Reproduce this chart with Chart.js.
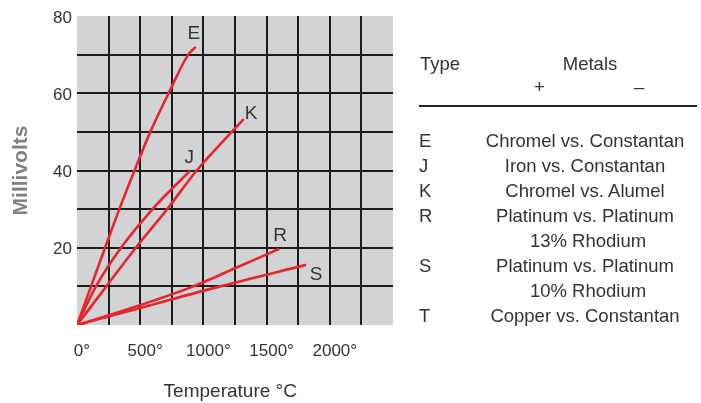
<!DOCTYPE html>
<html><head><meta charset="utf-8">
<script src="https://cdn.jsdelivr.net/npm/chart.js@4.4.1/dist/chart.umd.min.js"></script>
<style>
html,body{margin:0;padding:0;background:#fff;}
#wrap{position:relative;width:701px;height:403px;overflow:hidden;font-family:'Liberation Sans',Arial,sans-serif;color:#333;}
#c{position:absolute;left:0;top:0;}
.t{position:absolute;font-size:18.5px;line-height:25px;white-space:nowrap;}
.desc{position:absolute;width:230px;text-align:center;font-size:18.5px;line-height:25px;white-space:nowrap;}
#rule{position:absolute;left:419px;top:105px;width:278px;height:2px;background:#222;}
</style></head><body>
<div id="wrap">
<canvas id="c" width="701" height="403"></canvas>
<div id="table"></div>
</div>
<script>
// ---- data ----
const seriesNames = ['E', 'J', 'K', 'R', 'S'];
const tempE = [0, 111, 222, 335, 455, 580, 725, 880, 933];
const mvE   = [0, 10, 20, 30, 40, 50, 60, 70, 71.8];
const tempJ = [0, 150, 348, 598, 689, 888];
const mvJ   = [0, 10, 20, 30, 33.2, 39.7];
const tempK = [0, 232, 465, 714, 947, 1224, 1313];
const mvK   = [0, 10, 20, 30, 40, 50, 53.1];
const tempR = [0, 450, 920, 1250, 1592];
const mvR   = [0, 4.6, 10, 14.7, 19.6];
const tempS = [0, 500, 1131, 1804];
const mvS   = [0, 4.4, 10, 15.5];
const xTickLabels = ['0°', '500°', '1000°', '1500°', '2000°'];
const yTickLabels = ['', '20', '40', '60', '80'];
const typeCodes = ['E', 'J', 'K', 'R', 'S', 'T'];
const metalLines = [
  ['Chromel vs. Constantan'],
  ['Iron vs. Constantan'],
  ['Chromel vs. Alumel'],
  ['Platinum vs. Platinum', '13% Rhodium'],
  ['Platinum vs. Platinum', '10% Rhodium'],
  ['Copper vs. Constantan']
];

// ---- side table (real text) ----
(function(){
  const tbl = document.getElementById('table');
  function add(cls, text, left, top){
    const d = document.createElement('div');
    d.className = cls; d.textContent = text;
    d.style.left = left + 'px'; d.style.top = top + 'px';
    tbl.appendChild(d);
  }
  add('t', 'Type', 420, 51);
  add('desc', 'Metals', 475, 51);
  add('t', '+', 534, 74);
  add('t', '–', 634, 74);
  const r = document.createElement('div'); r.id = 'rule'; tbl.appendChild(r);
  let row = 0;
  typeCodes.forEach((code, i) => {
    metalLines[i].forEach((line, j) => {
      const top = 127.5 + row * 25;
      if (j === 0) add('t', code, 419, top);
      add('desc', line, j === 0 ? 470 : 473, top);
      row++;
    });
  });
})();

// ---- chart ----
function pts(xs, ys){ return xs.map((x, i) => ({x: x, y: ys[i]})); }
const seriesData = [pts(tempE, mvE), pts(tempJ, mvJ), pts(tempK, mvK), pts(tempR, mvR), pts(tempS, mvS)];

const bgPlugin = {
  id: 'plotBg',
  beforeDraw(chart){
    const a = chart.chartArea, ctx = chart.ctx;
    ctx.save(); ctx.fillStyle = '#d2d3d5';
    ctx.fillRect(a.left, a.top, a.right - a.left, a.bottom - a.top);
    ctx.restore();
  }
};
const labelPlugin = {
  id: 'seriesLabels',
  afterDatasetsDraw(chart, args, opts){
    const ctx = chart.ctx, xs = chart.scales.x, ys = chart.scales.y;
    ctx.save();
    ctx.font = '19px "Liberation Sans", Arial, sans-serif';
    ctx.fillStyle = '#333'; ctx.textAlign = 'center'; ctx.textBaseline = 'middle';
    chart.data.datasets.forEach((ds, i) => {
      const last = ds.data[ds.data.length - 1];
      const off = opts.offsets[i];
      ctx.fillText(ds.label, xs.getPixelForValue(last.x) + off[0], ys.getPixelForValue(last.y) + off[1]);
    });
    ctx.restore();
  }
};

function gridColor(max){
  return ctx => (ctx.tick && (ctx.tick.value === 0 || ctx.tick.value === max)) ? 'rgba(0,0,0,0)' : '#1c1c1c';
}

new Chart(document.getElementById('c'), {
  type: 'scatter',
  data: {
    datasets: seriesNames.map((n, i) => ({
      label: n, data: seriesData[i], showLine: true,
      borderColor: '#e8252d', backgroundColor: '#e8252d', borderWidth: 2.6,
      pointRadius: 0, cubicInterpolationMode: 'monotone', borderCapStyle: 'round'
    }))
  },
  options: {
    responsive: false, animation: false,
    layout: {padding: {left: 0, right: 308, top: 16, bottom: 0}},
    plugins: {
      legend: {display: false}, tooltip: {enabled: false},
      seriesLabels: {offsets: [[-1, -14], [0, -14], [8, -6], [2, -14], [11, 10]]}
    },
    scales: {
      x: {
        type: 'linear', min: 0, max: 2500,
        border: {display: false},
        grid: {drawTicks: false, lineWidth: 2, color: gridColor(2500)},
        ticks: {
          stepSize: 250, autoSkip: false, maxRotation: 0, padding: 16, labelOffset: 5, color: '#333',
          font: {family: '"Liberation Sans", Arial, sans-serif', size: 17},
          callback: v => (v % 500 === 0 && xTickLabels[v / 500] !== undefined) ? xTickLabels[v / 500] : ''
        },
        title: {display: true, text: 'Temperature °C\u2002', color: '#333',
          font: {family: '"Liberation Sans", Arial, sans-serif', size: 19}, padding: {top: 0, bottom: 0}},
        afterFit: s => { s.height = 78; }
      },
      y: {
        min: 0, max: 80,
        border: {display: false},
        grid: {drawTicks: false, lineWidth: 2, color: gridColor(80)},
        ticks: {
          stepSize: 10, autoSkip: false, padding: 5, labelOffset: 2, color: '#333',
          font: {family: '"Liberation Sans", Arial, sans-serif', size: 17},
          callback: v => (v % 20 === 0 && yTickLabels[v / 20] !== undefined) ? yTickLabels[v / 20] : ''
        },
        title: {display: true, text: 'Millivolts', color: '#808080',
          font: {family: '"Liberation Sans", Arial, sans-serif', size: 21, weight: 'bold'}, padding: {top: 9, bottom: 0}},
        afterFit: s => { s.width = 77; }
      }
    }
  },
  plugins: [bgPlugin, labelPlugin]
});
</script>
</body></html>
